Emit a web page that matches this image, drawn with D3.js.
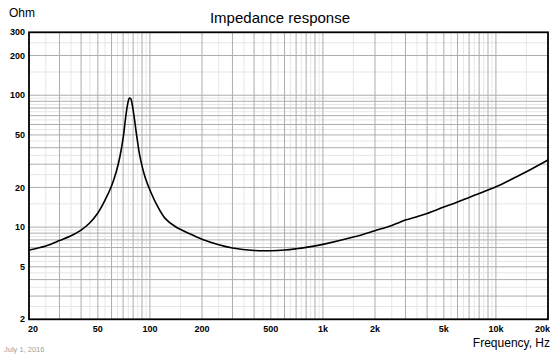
<!DOCTYPE html>
<html><head><meta charset="utf-8">
<script src="https://cdn.jsdelivr.net/npm/d3@7/dist/d3.min.js"></script>
<style>html,body{margin:0;padding:0;background:#fff;}svg{display:block;font-family:"Liberation Sans",Arial,sans-serif;}</style>
</head><body>
<svg id="c" width="560" height="354"></svg>
<script>
const freqHz = [20, 25, 30, 35, 40, 45, 50, 55, 60, 64, 67, 70.2, 72.4, 74.4, 76, 77.5, 79, 81, 84, 87.6, 93.7, 102, 110, 122, 140, 170, 200, 250, 300, 400, 500, 600, 700, 800, 1000, 1500, 2000, 2500, 3000, 3500, 4000, 5000, 6000, 7000, 8000, 10000, 12500, 15000, 20000];
const impedanceOhm = [6.7, 7.2, 7.9, 8.6, 9.5, 10.8, 12.8, 16.0, 20.5, 26.5, 34.0, 48.5, 68.0, 86.0, 95.0, 94.0, 85.0, 69.0, 48.5, 34.2, 24.0, 18.0, 14.6, 11.7, 10.1, 8.9, 8.1, 7.35, 6.95, 6.65, 6.62, 6.7, 6.85, 7.02, 7.4, 8.4, 9.4, 10.3, 11.3, 12.0, 12.7, 14.2, 15.5, 16.8, 18.0, 20.2, 23.3, 26.3, 32.3];
const xTickValues = [20, 50, 100, 200, 500, 1000, 2000, 5000, 10000, 20000];
const xTickLabels = ["20", "50", "100", "200", "500", "1k", "2k", "5k", "10k", "20k"];
const yTickValues = [2, 5, 10, 20, 50, 100, 200, 300];
const yTickLabels = ["2", "5", "10", "20", "50", "100", "200", "300"];
const majorSteps = [1, 2, 3, 4, 5, 6, 7, 8, 9];
const minorSteps = [1.5, 2.5, 3.5, 4.5, 5.5, 6.5, 7.5, 8.5, 9.5];
const decades = [1, 10, 100, 1000, 10000];

const L = 29, R = 548, T = 32.3, B = 319.3;
const svg = d3.select("#c");
const x = d3.scaleLog().domain([20, 20000]).range([L, R]);
const y = d3.scaleLog().domain([2, 300]).range([B, T]);

function gridVals(steps, dom) {
  const out = [];
  decades.forEach(d => steps.forEach(s => { const v = s * d; if (v > dom[0] * 1.0001 && v < dom[1] * 0.9999) out.push(v); }));
  return out;
}
const g = svg.append("g");
g.selectAll(".vmin").data(gridVals(minorSteps, x.domain())).enter().append("line")
  .attr("x1", d => x(d)).attr("x2", d => x(d)).attr("y1", T).attr("y2", B)
  .attr("stroke", "#e6e6e6").attr("stroke-width", 1);
g.selectAll(".hmin").data(gridVals(minorSteps, y.domain())).enter().append("line")
  .attr("y1", d => y(d)).attr("y2", d => y(d)).attr("x1", L).attr("x2", R)
  .attr("stroke", "#e6e6e6").attr("stroke-width", 1);
g.selectAll(".vmaj").data(gridVals(majorSteps, x.domain())).enter().append("line")
  .attr("x1", d => x(d)).attr("x2", d => x(d)).attr("y1", T).attr("y2", B)
  .attr("stroke", "#adadad").attr("stroke-width", 1);
g.selectAll(".hmaj").data(gridVals(majorSteps, y.domain())).enter().append("line")
  .attr("y1", d => y(d)).attr("y2", d => y(d)).attr("x1", L).attr("x2", R)
  .attr("stroke", "#adadad").attr("stroke-width", 1);

const line = d3.line().x((d, i) => x(freqHz[i])).y(d => y(d)).curve(d3.curveCatmullRom.alpha(0.5));
svg.append("path").datum(impedanceOhm).attr("d", line)
  .attr("fill", "none").attr("stroke", "#000").attr("stroke-width", 1.6);

svg.append("rect").attr("x", L).attr("y", T).attr("width", R - L).attr("height", B - T)
  .attr("fill", "none").attr("stroke", "#000").attr("stroke-width", 1.8);

svg.selectAll(".yl").data(yTickValues).enter().append("text")
  .attr("x", 25).attr("y", d => y(d)).attr("dy", "0.35em")
  .attr("text-anchor", "end").attr("font-size", 9).attr("font-weight", "bold")
  .text((d, i) => yTickLabels[i]);
const n = xTickValues.length;
svg.selectAll(".xl").data(xTickValues).enter().append("text")
  .attr("x", (d, i) => i === 0 ? x(d) - 1 : (i === n - 1 ? x(d) + 2 : x(d)))
  .attr("y", 331.5)
  .attr("text-anchor", (d, i) => i === 0 ? "start" : (i === n - 1 ? "end" : "middle"))
  .attr("font-size", 9).attr("font-weight", "bold")
  .text((d, i) => xTickLabels[i]);

svg.append("text").attr("x", 280).attr("y", 23).attr("text-anchor", "middle")
  .attr("font-size", 15).text("Impedance response");
svg.append("text").attr("x", 9).attr("y", 17).attr("font-size", 12).text("Ohm");
svg.append("text").attr("x", 550).attr("y", 346.5).attr("text-anchor", "end")
  .attr("font-size", 12).text("Frequency, Hz");
svg.append("text").attr("x", 4).attr("y", 351.5).attr("font-size", 7.5)
  .attr("fill", "#a0a0a0").text("July 1, 2016");
</script>
</body></html>
